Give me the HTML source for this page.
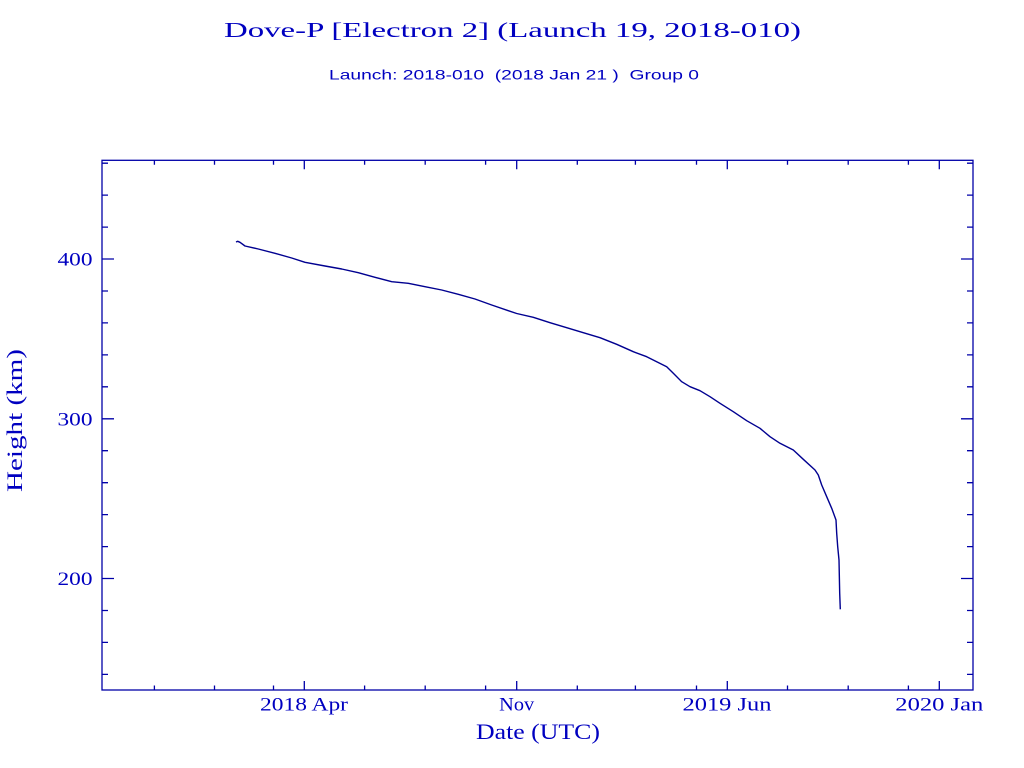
<!DOCTYPE html>
<html>
<head>
<meta charset="utf-8">
<style>
html,body{margin:0;padding:0;background:#fff;}
svg{display:block;}
</style>
</head>
<body>
<svg width="1024" height="768" viewBox="0 0 1024 768" xmlns="http://www.w3.org/2000/svg" xml:space="preserve">
<rect width="1024" height="768" fill="#ffffff"/>
<!-- Titles -->
<text x="512.5" y="37" font-family="Liberation Serif, serif" font-size="21" fill="#0000c0" text-anchor="middle" textLength="577" lengthAdjust="spacingAndGlyphs">Dove-P [Electron 2] (Launch 19, 2018-010)</text>
<text x="514" y="79.5" font-family="Liberation Sans, sans-serif" font-size="14" fill="#0000c0" text-anchor="middle" textLength="370" lengthAdjust="spacingAndGlyphs" style="white-space:pre">Launch: 2018-010  (2018 Jan 21 )  Group 0</text>

<!-- Axes box -->
<g stroke="#0000a8" stroke-width="1.3" fill="none">
<rect x="102" y="160.3" width="871" height="529.7"/>
<path d="M154.4 690V685.5 M214.5 690V685.5 M273.5 690V685.5 M364.6 690V685.5 M425.2 690V685.5 M485.6 690V685.5 M577.3 690V685.5 M635.4 690V685.5 M696.5 690V685.5 M787.5 690V685.5 M848.2 690V685.5 M908.4 690V685.5
M154.4 160.3V164.8 M214.5 160.3V164.8 M273.5 160.3V164.8 M364.6 160.3V164.8 M425.2 160.3V164.8 M485.6 160.3V164.8 M577.3 160.3V164.8 M635.4 160.3V164.8 M696.5 160.3V164.8 M787.5 160.3V164.8 M848.2 160.3V164.8 M908.4 160.3V164.8"/>
<path d="M304.3 690V681 M516.7 690V681 M727.3 690V681 M939.3 690V681
M304.3 160.3V169.3 M516.7 160.3V169.3 M727.3 160.3V169.3 M939.3 160.3V169.3"/>
<path d="M102 163.2H108 M102 195.1H108 M102 227.1H108 M102 291H108 M102 322.9H108 M102 354.9H108 M102 386.8H108 M102 450.7H108 M102 482.7H108 M102 514.6H108 M102 546.6H108 M102 610.5H108 M102 642.4H108 M102 674.4H108
M973 163.2H967 M973 195.1H967 M973 227.1H967 M973 291H967 M973 322.9H967 M973 354.9H967 M973 386.8H967 M973 450.7H967 M973 482.7H967 M973 514.6H967 M973 546.6H967 M973 610.5H967 M973 642.4H967 M973 674.4H967"/>
<path d="M102 259H114 M102 418.8H114 M102 578.5H114 M973 259H961 M973 418.8H961 M973 578.5H961"/>
</g>

<!-- Tick labels -->
<g font-family="Liberation Serif, serif" font-size="19" fill="#0000c0">
<text x="92.5" y="265.5" text-anchor="end" textLength="35" lengthAdjust="spacingAndGlyphs">400</text>
<text x="92.5" y="425.3" text-anchor="end" textLength="35" lengthAdjust="spacingAndGlyphs">300</text>
<text x="92.5" y="585" text-anchor="end" textLength="35" lengthAdjust="spacingAndGlyphs">200</text>
<text x="304" y="710.7" text-anchor="middle" textLength="88" lengthAdjust="spacingAndGlyphs">2018 Apr</text>
<text x="516.7" y="710.7" text-anchor="middle" textLength="35" lengthAdjust="spacingAndGlyphs">Nov</text>
<text x="727" y="710.7" text-anchor="middle" textLength="89" lengthAdjust="spacingAndGlyphs">2019 Jun</text>
<text x="939.3" y="710.7" text-anchor="middle" textLength="88" lengthAdjust="spacingAndGlyphs">2020 Jan</text>
</g>

<!-- Axis titles -->
<text x="538" y="739" font-family="Liberation Serif, serif" font-size="22" fill="#0000c0" text-anchor="middle" textLength="124" lengthAdjust="spacingAndGlyphs">Date (UTC)</text>
<text transform="translate(22,420.5) rotate(-90)" x="0" y="0" font-family="Liberation Serif, serif" font-size="22" fill="#0000c0" text-anchor="middle" textLength="143" lengthAdjust="spacingAndGlyphs">Height (km)</text>

<!-- Data curve -->
<polyline fill="none" stroke="#000090" stroke-width="1.4" stroke-linejoin="round" points="
236,242 237.7,241.3 240,242.3 245,246 258.3,249 275,253.3 291.7,258 305,262.3 325,266 341.7,269 358.3,272.7 375,277.3 391.7,281.7 408.3,283.3 425,286.7 441.7,290 458.3,294.3 475,299 491.7,305 508.3,310.7 516.7,313.5 533.3,317.3 550,322.7 566.7,327.7 583.3,332.7 600,337.7 616.7,344.3 633.3,351.7 646.7,356.7 656.7,361.7 666.7,366.7 673.3,373.3 681.7,381.7 690,386.7 700,390.7 710,396.7 720,403.3 733.3,411.7 746.7,420.7 760,428.3 770,436.7 780,443.3 793.3,450 803.3,459.3 815,470 818.3,475 821.7,485 826.7,496.7 831.7,508.3 836,520 836.7,533.3 837.7,546.7 839,560 839.7,593.3 840.3,609.3"/>
</svg>
</body>
</html>
